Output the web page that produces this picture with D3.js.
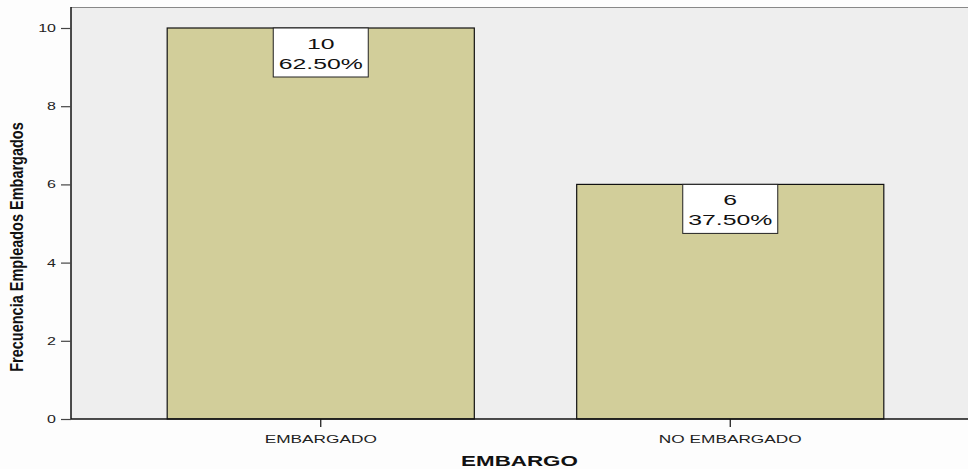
<!DOCTYPE html>
<html><head><meta charset="utf-8">
<script src="https://cdn.jsdelivr.net/npm/d3@7"></script>
<style>body{margin:0;background:#fdfdfd;}svg{display:block;}</style>
</head><body>
<script>
const categories = ["EMBARGADO", "NO EMBARGADO"];
const counts = [10, 6];
const percents = ["62.50%", "37.50%"];
const yTicks = [0, 2, 4, 6, 8, 10];

(function () {
const W = 968, H = 469, SX = 1.6;
const FONT = "Liberation Sans, Arial, sans-serif";
const svg = d3.select("body").append("svg").attr("width", W).attr("height", H);
svg.append("rect").attr("width", W).attr("height", H).attr("fill", "#fdfdfd");

const pL = 71, pT = 7, pB = 419, pR = 968;
const y = d3.scaleLinear().domain([0, 10]).range([419, 28]);
const x = d3.scaleBand().domain(categories).range([116, 935]).paddingInner(0.25).paddingOuter(0.125);

svg.append("rect").attr("x", pL).attr("y", pT).attr("width", pR - pL).attr("height", pB - pT).attr("fill", "#eeeeee");
svg.append("line").attr("x1", pL).attr("x2", pR).attr("y1", pT + 0.5).attr("y2", pT + 0.5).attr("stroke", "#888").attr("stroke-width", 1);

const data = categories.map((c, i) => ({c, v: counts[i], p: percents[i]}));

svg.selectAll("rect.bar").data(data).enter().append("rect").attr("class", "bar")
  .attr("x", d => x(d.c)).attr("y", d => y(d.v))
  .attr("width", x.bandwidth()).attr("height", d => y(0) - y(d.v))
  .attr("fill", "#d2ce9a").attr("stroke", "#111").attr("stroke-width", 1.2);

// y axis
const yAxis = svg.append("g").attr("transform", `translate(${pL},0)`)
  .call(d3.axisLeft(y).tickValues(yTicks).tickSize(10).tickPadding(5));
yAxis.select(".domain").attr("stroke", "#111").attr("stroke-width", 1.5).attr("d", `M0,${pT}V${pB}`);
yAxis.selectAll(".tick line").attr("stroke", "#444").attr("stroke-width", 1.2);
yAxis.selectAll(".tick text").each(function () {
  const t = d3.select(this);
  const xx = +t.attr("x");
  t.attr("x", null).attr("transform", `translate(${xx},0) scale(${SX},1)`);
}).attr("font-family", FONT).attr("font-size", 10).attr("fill", "#222").attr("dy", "0.34em");

// x axis
const xAxis = svg.append("g").attr("transform", `translate(0,${pB})`)
  .call(d3.axisBottom(x).tickSize(8).tickPadding(5));
xAxis.select(".domain").attr("stroke", "#111").attr("stroke-width", 1.5).attr("d", `M${pL},0H${pR}`);
xAxis.selectAll(".tick line").attr("stroke", "#111").attr("stroke-width", 1.2);
xAxis.selectAll(".tick text").attr("y", null).attr("dy", null)
  .attr("transform", `translate(0,24) scale(${SX},1)`)
  .attr("font-family", FONT).attr("font-size", 10.8).attr("fill", "#222");

// value labels
const lbl = svg.selectAll("g.lbl").data(data).enter().append("g").attr("class", "lbl")
  .attr("transform", d => `translate(${x(d.c) + x.bandwidth() / 2},${y(d.v)})`);
lbl.append("rect").attr("x", -47.5).attr("y", 0).attr("width", 95).attr("height", 49)
  .attr("fill", "#fff").attr("stroke", "#222").attr("stroke-width", 1);
lbl.append("text").attr("transform", `translate(0,21) scale(${SX},1)`).attr("text-anchor", "middle").attr("font-family", FONT)
  .attr("font-size", 15.5).attr("fill", "#111").text(d => d.v);
lbl.append("text").attr("transform", `translate(0,41) scale(${SX},1)`).attr("text-anchor", "middle").attr("font-family", FONT)
  .attr("font-size", 15.5).attr("fill", "#111").text(d => d.p);

// titles
svg.append("text").attr("transform", `translate(${(pL + pR) / 2},466) scale(${SX},1)`).attr("text-anchor", "middle")
  .attr("font-family", FONT).attr("font-weight", "bold").attr("font-size", 14).attr("fill", "#111").text("EMBARGO");
svg.append("text").attr("transform", "translate(23,247) scale(1.3,1) rotate(-90)").attr("text-anchor", "middle")
  .attr("font-family", FONT).attr("font-weight", "bold").attr("font-size", 14.5).attr("fill", "#111").text("Frecuencia Empleados Embargados");
})();
</script>
</body></html>
